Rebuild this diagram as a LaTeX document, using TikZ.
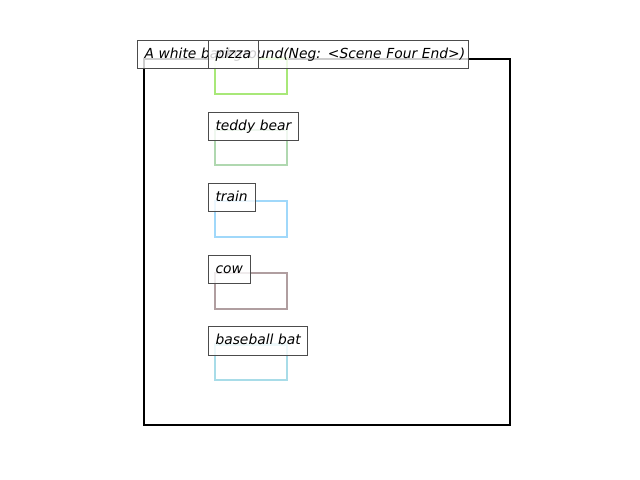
\documentclass[tikz,border=0pt]{standalone}
\usepackage{fontspec}
\setmainfont{DejaVu Sans}
\begin{document}
\begin{tikzpicture}[x=0.01in,y=-0.01in,
  frame/.style={draw=black,line width=1.45pt},
  objbox/.style={line width=1.6pt},
  tag/.style={anchor=north west,draw=black!70,line width=0.72pt,
    fill=white,fill opacity=0.8,text opacity=1,
    font=\itshape\fontsize{10}{12}\selectfont,
    inner xsep=0.07in,inner ysep=0pt,align=left,
    minimum height=0.28in,text height=7.6pt,text depth=2.4pt}]
  \useasboundingbox (0,0) rectangle (640,480);
  % scene frame
  \draw[frame] (144,59) rectangle (510,425);
  % object regions
  \definecolor{cpizza}{HTML}{A8E878}
  \definecolor{cteddy}{HTML}{B0D8B0}
  \definecolor{ctrain}{HTML}{A0D8FA}
  \definecolor{ccow}{HTML}{B09EA0}
  \definecolor{cbat}{HTML}{A8DCE8}
  \draw[objbox,draw=cpizza] (215,58.5) rectangle (287,94);
  \draw[objbox,draw=cteddy] (215,130) rectangle (287,165);
  \draw[objbox,draw=ctrain] (215,201) rectangle (287,237);
  \draw[objbox,draw=ccow]   (215,273) rectangle (287,309);
  \draw[objbox,draw=cbat]   (215,344.5) rectangle (287,380);
  % labels
  \node[tag,text width=3.17in] (title) at (137,40) {\mbox{A white background(Neg: <Scene Four End>)}};
  \node[tag,text width=0.36in] (pizza) at (208,40) {\mbox{pizza}};
  \node[tag,text width=0.76in] (teddy) at (208,112) {\mbox{teddy bear}};
  \node[tag,text width=0.33in] (train) at (208,183) {\mbox{train}};
  \node[tag,text width=0.28in] (cow) at (208,255) {\mbox{cow}};
  \node[tag,text width=0.85in] (bat) at (208,326.5) {\mbox{baseball bat}};
\end{tikzpicture}
\end{document}
